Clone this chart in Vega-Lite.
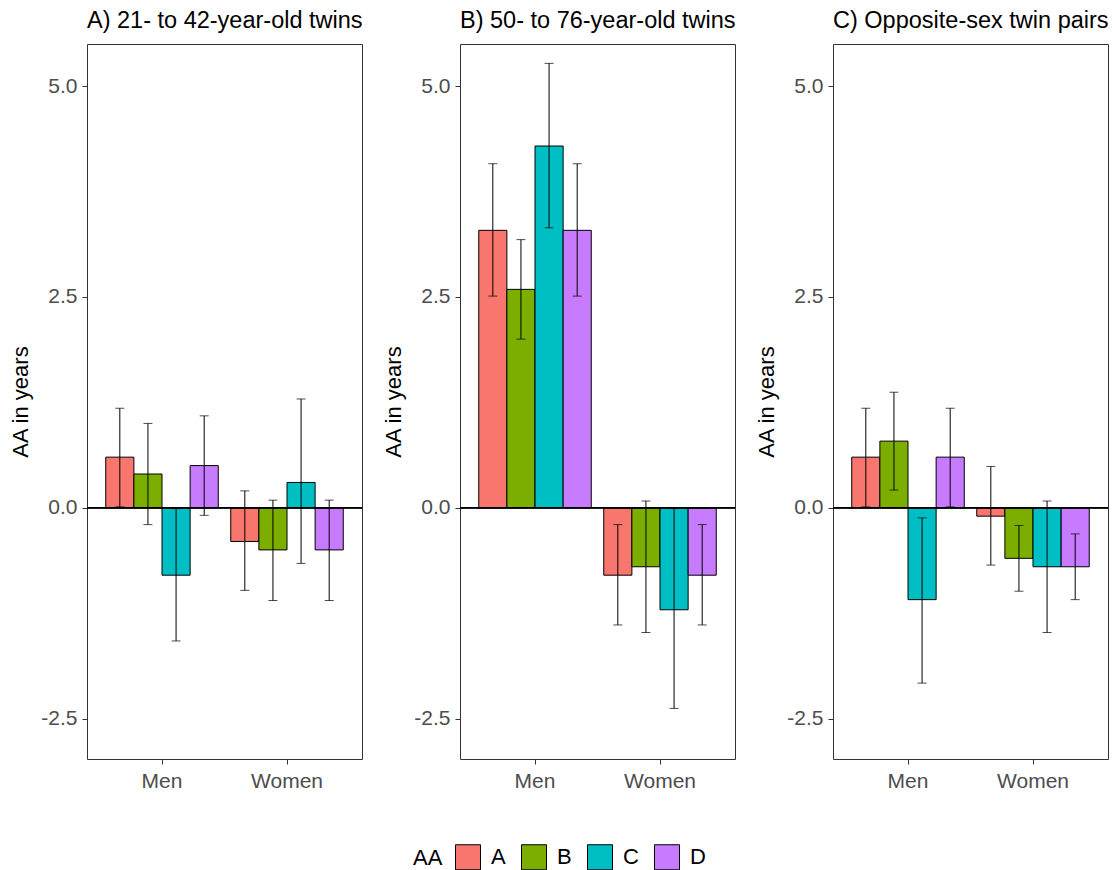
{
  "$schema": "https://vega.github.io/schema/vega-lite/v6.json",
  "background": "white",
  "padding": {"left": 9, "top": 8, "right": 2, "bottom": 2},
  "datasets": {
    "d": [
      {"panel": "A", "sex": "Men", "grp": "A", "val": 0.6, "lo": 0.01, "hi": 1.18},
      {"panel": "A", "sex": "Men", "grp": "B", "val": 0.4, "lo": -0.2, "hi": 1.0},
      {"panel": "A", "sex": "Men", "grp": "C", "val": -0.8, "lo": -1.58, "hi": -0.01},
      {"panel": "A", "sex": "Men", "grp": "D", "val": 0.5, "lo": -0.09, "hi": 1.09},
      {"panel": "A", "sex": "Women", "grp": "A", "val": -0.4, "lo": -0.98, "hi": 0.2},
      {"panel": "A", "sex": "Women", "grp": "B", "val": -0.5, "lo": -1.1, "hi": 0.09},
      {"panel": "A", "sex": "Women", "grp": "C", "val": 0.3, "lo": -0.66, "hi": 1.29},
      {"panel": "A", "sex": "Women", "grp": "D", "val": -0.5, "lo": -1.1, "hi": 0.09},
      {"panel": "B", "sex": "Men", "grp": "A", "val": 3.29, "lo": 2.51, "hi": 4.08},
      {"panel": "B", "sex": "Men", "grp": "B", "val": 2.59, "lo": 2.0, "hi": 3.18},
      {"panel": "B", "sex": "Men", "grp": "C", "val": 4.29, "lo": 3.32, "hi": 5.27},
      {"panel": "B", "sex": "Men", "grp": "D", "val": 3.29, "lo": 2.51, "hi": 4.08},
      {"panel": "B", "sex": "Women", "grp": "A", "val": -0.8, "lo": -1.39, "hi": -0.2},
      {"panel": "B", "sex": "Women", "grp": "B", "val": -0.7, "lo": -1.48, "hi": 0.08},
      {"panel": "B", "sex": "Women", "grp": "C", "val": -1.21, "lo": -2.38, "hi": -0.01},
      {"panel": "B", "sex": "Women", "grp": "D", "val": -0.8, "lo": -1.39, "hi": -0.2},
      {"panel": "C", "sex": "Men", "grp": "A", "val": 0.6, "lo": 0.01, "hi": 1.18},
      {"panel": "C", "sex": "Men", "grp": "B", "val": 0.79, "lo": 0.21, "hi": 1.37},
      {"panel": "C", "sex": "Men", "grp": "C", "val": -1.09, "lo": -2.08, "hi": -0.12},
      {"panel": "C", "sex": "Men", "grp": "D", "val": 0.6, "lo": 0.01, "hi": 1.18},
      {"panel": "C", "sex": "Women", "grp": "A", "val": -0.1, "lo": -0.68, "hi": 0.49},
      {"panel": "C", "sex": "Women", "grp": "B", "val": -0.6, "lo": -0.99, "hi": -0.21},
      {"panel": "C", "sex": "Women", "grp": "C", "val": -0.7, "lo": -1.48, "hi": 0.08},
      {"panel": "C", "sex": "Women", "grp": "D", "val": -0.7, "lo": -1.09, "hi": -0.31}
    ]
  },
  "data": {"name": "d"},
  "bounds": "flush",
  "spacing": 98,
  "hconcat": [
    {
      "width": 275, "height": 715,
      "title": {"text": "A) 21- to 42-year-old twins"},
      "transform": [{"filter": "datum.panel === 'A'"}],
      "layer": [
        {"mark": {"type": "bar", "stroke": "black", "strokeWidth": 1},
         "encoding": {
           "x": {"field": "sex", "type": "nominal", "sort": ["Men", "Women"], "scale": {"paddingInner": 0.1, "paddingOuter": 0.15}, "axis": {"title": null, "labelAngle": 0, "labelPadding": 6}},
           "xOffset": {"field": "grp", "type": "nominal", "scale": {"paddingInner": 0, "paddingOuter": 0}},
           "y": {"field": "val", "type": "quantitative", "scale": {"domain": [-2.98, 5.5], "nice": false, "zero": false}, "axis": {"title": "AA in years", "values": [-2.5, 0, 2.5, 5], "format": ".1f", "labelExpr": "replace(datum.label, '\u2212', '-')", "labelPadding": 5, "titlePadding": 8}},
           "y2": {"datum": 0},
           "color": {"field": "grp", "type": "nominal", "title": "AA", "scale": {"domain": ["A", "B", "C", "D"], "range": ["#F8766D", "#7CAE00", "#00BFC4", "#C77CFF"]}}
         }},
        {"mark": {"type": "rule", "color": "black", "strokeWidth": 1},
         "encoding": {
           "x": {"field": "sex", "type": "nominal", "sort": ["Men", "Women"]},
           "xOffset": {"field": "grp", "type": "nominal"},
           "y": {"field": "lo", "type": "quantitative"},
           "y2": {"field": "hi"}
         }},
        {"mark": {"type": "tick", "color": "black", "size": 9, "thickness": 1, "orient": "horizontal"},
         "encoding": {
           "x": {"field": "sex", "type": "nominal", "sort": ["Men", "Women"]},
           "xOffset": {"field": "grp", "type": "nominal"},
           "y": {"field": "lo", "type": "quantitative"}
         }},
        {"mark": {"type": "tick", "color": "black", "size": 9, "thickness": 1, "orient": "horizontal"},
         "encoding": {
           "x": {"field": "sex", "type": "nominal", "sort": ["Men", "Women"]},
           "xOffset": {"field": "grp", "type": "nominal"},
           "y": {"field": "hi", "type": "quantitative"}
         }},
        {"mark": {"type": "rule", "color": "black", "strokeWidth": 1},
         "encoding": {"y": {"datum": 0}}}
      ]
    },
    {
      "width": 275, "height": 715,
      "title": {"text": "B) 50- to 76-year-old twins"},
      "transform": [{"filter": "datum.panel === 'B'"}],
      "layer": [
        {"mark": {"type": "bar", "stroke": "black", "strokeWidth": 1},
         "encoding": {
           "x": {"field": "sex", "type": "nominal", "sort": ["Men", "Women"], "scale": {"paddingInner": 0.1, "paddingOuter": 0.15}, "axis": {"title": null, "labelAngle": 0, "labelPadding": 6}},
           "xOffset": {"field": "grp", "type": "nominal", "scale": {"paddingInner": 0, "paddingOuter": 0}},
           "y": {"field": "val", "type": "quantitative", "scale": {"domain": [-2.98, 5.5], "nice": false, "zero": false}, "axis": {"title": "AA in years", "values": [-2.5, 0, 2.5, 5], "format": ".1f", "labelExpr": "replace(datum.label, '\u2212', '-')", "labelPadding": 5, "titlePadding": 8}},
           "y2": {"datum": 0},
           "color": {"field": "grp", "type": "nominal", "title": "AA", "scale": {"domain": ["A", "B", "C", "D"], "range": ["#F8766D", "#7CAE00", "#00BFC4", "#C77CFF"]}}
         }},
        {"mark": {"type": "rule", "color": "black", "strokeWidth": 1},
         "encoding": {
           "x": {"field": "sex", "type": "nominal", "sort": ["Men", "Women"]},
           "xOffset": {"field": "grp", "type": "nominal"},
           "y": {"field": "lo", "type": "quantitative"},
           "y2": {"field": "hi"}
         }},
        {"mark": {"type": "tick", "color": "black", "size": 9, "thickness": 1, "orient": "horizontal"},
         "encoding": {
           "x": {"field": "sex", "type": "nominal", "sort": ["Men", "Women"]},
           "xOffset": {"field": "grp", "type": "nominal"},
           "y": {"field": "lo", "type": "quantitative"}
         }},
        {"mark": {"type": "tick", "color": "black", "size": 9, "thickness": 1, "orient": "horizontal"},
         "encoding": {
           "x": {"field": "sex", "type": "nominal", "sort": ["Men", "Women"]},
           "xOffset": {"field": "grp", "type": "nominal"},
           "y": {"field": "hi", "type": "quantitative"}
         }},
        {"mark": {"type": "rule", "color": "black", "strokeWidth": 1},
         "encoding": {"y": {"datum": 0}}}
      ]
    },
    {
      "width": 275, "height": 715,
      "title": {"text": "C) Opposite-sex twin pairs"},
      "transform": [{"filter": "datum.panel === 'C'"}],
      "layer": [
        {"mark": {"type": "bar", "stroke": "black", "strokeWidth": 1},
         "encoding": {
           "x": {"field": "sex", "type": "nominal", "sort": ["Men", "Women"], "scale": {"paddingInner": 0.1, "paddingOuter": 0.15}, "axis": {"title": null, "labelAngle": 0, "labelPadding": 6}},
           "xOffset": {"field": "grp", "type": "nominal", "scale": {"paddingInner": 0, "paddingOuter": 0}},
           "y": {"field": "val", "type": "quantitative", "scale": {"domain": [-2.98, 5.5], "nice": false, "zero": false}, "axis": {"title": "AA in years", "values": [-2.5, 0, 2.5, 5], "format": ".1f", "labelExpr": "replace(datum.label, '\u2212', '-')", "labelPadding": 5, "titlePadding": 8}},
           "y2": {"datum": 0},
           "color": {"field": "grp", "type": "nominal", "title": "AA", "scale": {"domain": ["A", "B", "C", "D"], "range": ["#F8766D", "#7CAE00", "#00BFC4", "#C77CFF"]}}
         }},
        {"mark": {"type": "rule", "color": "black", "strokeWidth": 1},
         "encoding": {
           "x": {"field": "sex", "type": "nominal", "sort": ["Men", "Women"]},
           "xOffset": {"field": "grp", "type": "nominal"},
           "y": {"field": "lo", "type": "quantitative"},
           "y2": {"field": "hi"}
         }},
        {"mark": {"type": "tick", "color": "black", "size": 9, "thickness": 1, "orient": "horizontal"},
         "encoding": {
           "x": {"field": "sex", "type": "nominal", "sort": ["Men", "Women"]},
           "xOffset": {"field": "grp", "type": "nominal"},
           "y": {"field": "lo", "type": "quantitative"}
         }},
        {"mark": {"type": "tick", "color": "black", "size": 9, "thickness": 1, "orient": "horizontal"},
         "encoding": {
           "x": {"field": "sex", "type": "nominal", "sort": ["Men", "Women"]},
           "xOffset": {"field": "grp", "type": "nominal"},
           "y": {"field": "hi", "type": "quantitative"}
         }},
        {"mark": {"type": "rule", "color": "black", "strokeWidth": 1},
         "encoding": {"y": {"datum": 0}}}
      ]
    }
  ],
  "config": {
    "font": "Liberation Sans",
    "view": {"stroke": "#333333", "strokeWidth": 1},
    "title": {"fontSize": 23.5, "fontWeight": "normal", "anchor": "start", "frame": "group", "color": "black", "offset": 12, "font": "Liberation Sans"},
    "axis": {"grid": false, "domain": false, "tickColor": "#333333", "tickSize": 5, "labelFontSize": 21, "labelColor": "#4D4D4D", "titleFontSize": 22, "titleFontWeight": "normal", "titleColor": "black", "labelFont": "Liberation Sans", "titleFont": "Liberation Sans"},
    "legend": {
      "orient": "bottom", "direction": "horizontal", "titleOrient": "left",
      "symbolType": "square", "symbolSize": 625, "symbolStrokeColor": "black", "symbolStrokeWidth": 1, "symbolOpacity": 1,
      "labelFontSize": 22, "titleFontSize": 22, "titleFontWeight": "normal", "labelColor": "black", "titleColor": "black",
      "labelOffset": 10, "columnPadding": 13, "titlePadding": 12, "offset": 52,
      "labelFont": "Liberation Sans", "titleFont": "Liberation Sans",
      "layout": {"bottom": {"anchor": "middle"}}
    }
  }
}
